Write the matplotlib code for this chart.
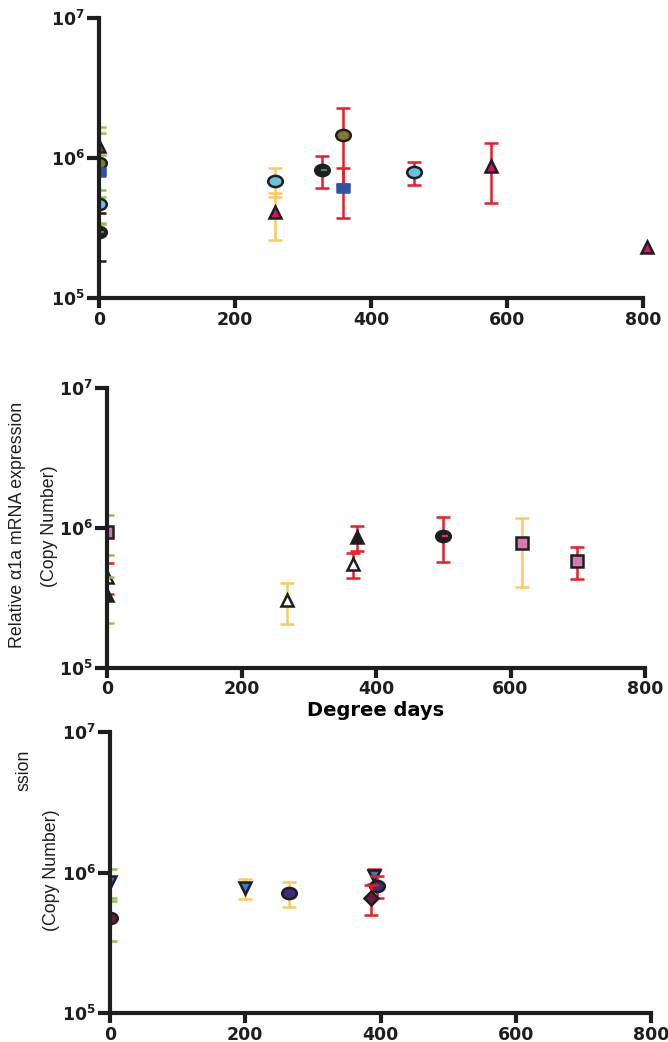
import matplotlib
matplotlib.use('Agg')
import matplotlib.pyplot as plt
from matplotlib.path import Path
from matplotlib.transforms import Affine2D

W, H = 668, 1042

GREEN = '#8cc63f'
YELLOW = '#fdc95f'
RED = '#ec1c24'
BLACK = '#1e1e1e'

# panel 1 (top)
p1_x = [0, 0, 0, 0, 0, 259, 259, 328, 359, 359, 463, 576, 806]
p1_y = [1.22e6, 9.2e5, 7.9e5, 4.7e5, 2.95e5, 6.9e5, 4.1e5, 8.2e5, 1.46e6, 6.1e5, 7.9e5, 8.8e5, 2.3e5]
p1_sd = [4.4e5, 5.8e5, 2.6e5, 1.25e5, 1.1e5, 1.6e5, 1.5e5, 2.1e5, 8.1e5, 2.4e5, 1.5e5, 4.0e5, 0]
p1_marker = ['^', 'o', 's', 'o', 'o', 'o', '^', 'o', 'o', 's', 'o', '^', '^']
p1_face = ['#d4136f', '#7d7a34', '#2f52a3', '#63c6dc', BLACK, '#63c6dc', '#d4136f',
           BLACK, '#7d7a34', '#2f52a3', '#63c6dc', '#d4136f', '#d4136f']
p1_bar = [GREEN, GREEN, GREEN, GREEN, BLACK, YELLOW, YELLOW, RED, RED, RED, RED, RED, RED]

# panel 2 (middle)
p2_x = [0, 0, 0, 268, 366, 372, 500, 617, 699]
p2_y = [9.4e5, 4.5e5, 3.3e5, 3.06e5, 5.5e5, 8.6e5, 8.8e5, 7.8e5, 5.8e5]
p2_sd = [3.0e5, 1.1e5, 1.2e5, 1.0e5, 1.1e5, 1.7e5, 3.1e5, 4.0e5, 1.5e5]
p2_marker = ['s', '^', '^', '^', '^', '^', 'o', 's', 's']
p2_face = ['#d877b6', 'white', BLACK, 'white', 'white', BLACK, BLACK, '#d877b6', '#d877b6']
p2_bar = [GREEN, RED, GREEN, YELLOW, RED, RED, RED, YELLOW, RED]

# panel 3 (bottom)
p3_x = [0, 0, 200, 265, 391, 395, 386]
p3_y = [8.55e5, 4.75e5, 7.77e5, 7.15e5, 9.45e5, 8.0e5, 6.6e5]
p3_sd = [2.0e5, 1.5e5, 1.25e5, 1.45e5, 1.2e5, 1.4e5, 1.6e5]
p3_marker = ['v', 'o', 'v', 'o', 'v', 'o', 'D']
p3_face = ['#3a78c2', '#6e1a3c', '#3a78c2', '#3b2c7c', '#3a78c2', '#3b2c7c', '#6e1a3c']
p3_bar = [GREEN, GREEN, YELLOW, YELLOW, RED, RED, RED]

# small dashes inside the black circles
dash_x = [0, 328, 500]
dash_y = [2.95e5, 8.2e5, 8.8e5]
dash_color = ['#2e9a4a', '#2e9a4a', '#e0307a']
dash_panel = [0, 0, 1]

x_ticks = [0, 200, 400, 600, 800]
y_ticks = [1e5, 1e6, 1e7]
y_ticklabels = [r'$\mathbf{10^{5}}$', r'$\mathbf{10^{6}}$', r'$\mathbf{10^{7}}$']

# circles in the original are slightly squashed
ELLIPSE = Path.unit_circle().transformed(Affine2D().scale(1.3, 1.0))
SQUARE_BAR = Path([(-1.3, -0.9), (1.3, -0.9), (1.3, 0.9), (-1.3, 0.9), (-1.3, -0.9)],
                  [Path.MOVETO, Path.LINETO, Path.LINETO, Path.LINETO, Path.CLOSEPOLY])


def make_axes(fig, left, bottom, width, height):
    ax = fig.add_axes([left / W, bottom / H, width / W, height / H])
    ax.set_yscale('log')
    ax.set_xlim(0, 800)
    ax.set_ylim(1e5, 1e7)
    for side in ('top', 'right'):
        ax.spines[side].set_visible(False)
    for side in ('left', 'bottom'):
        ax.spines[side].set_linewidth(3)
        ax.spines[side].set_color(BLACK)
    ax.set_xticks(x_ticks)
    ax.set_xticklabels([str(t) for t in x_ticks], fontweight='bold', fontsize=12.5)
    ax.set_yticks(y_ticks)
    ax.set_yticklabels(y_ticklabels, fontsize=12.5)
    ax.yaxis.set_minor_locator(matplotlib.ticker.NullLocator())
    ax.tick_params(axis='y', length=9, width=3, pad=1, colors=BLACK)
    ax.tick_params(axis='x', length=7, width=3, pad=2, colors=BLACK)
    return ax


def draw(ax, xs, ys, sds, markers, faces, bars):
    for x, y, sd, m, fc, bc in zip(xs, ys, sds, markers, faces, bars):
        ec = BLACK
        mk = m
        size = 9
        if m == 'o':
            mk = ELLIPSE
            size = 10.5
        elif m == 'D':
            size = 7
        elif m == 's':
            size = 8.5
            if fc == '#2f52a3':
                # blue squares have no outline and are flat
                ec = fc
                mk = SQUARE_BAR
                size = 9
        if sd == 0:
            ax.plot([x], [y], marker=mk, ms=size, mfc=fc, mec=ec, mew=1.8,
                    linestyle='none', clip_on=False)
            continue
        ax.errorbar([x], [y], yerr=[sd], fmt='none', ecolor=bc,
                    elinewidth=1.8, capsize=5, capthick=1.8)
        ax.plot([x], [y], marker=mk, ms=size, mfc=fc, mec=ec, mew=1.8,
                linestyle='none')


fig = plt.figure(figsize=(W / 100, H / 100), dpi=100)

ax1 = make_axes(fig, 99, 744, 544, 280)
draw(ax1, p1_x, p1_y, p1_sd, p1_marker, p1_face, p1_bar)

ax2 = make_axes(fig, 107, 374, 538, 280)
draw(ax2, p2_x, p2_y, p2_sd, p2_marker, p2_face, p2_bar)
ax2.set_xlabel('Degree days', fontsize=14, fontweight='bold', labelpad=2)

ax3 = make_axes(fig, 110, 29, 541, 281)
draw(ax3, p3_x, p3_y, p3_sd, p3_marker, p3_face, p3_bar)

panels = [ax1, ax2, ax3]
for x, y, c, p in zip(dash_x, dash_y, dash_color, dash_panel):
    panels[p].plot([x + 3], [y], marker='_', ms=4, mew=1.5, color=c, linestyle='none')

label_font = dict(family=['Liberation Sans', 'DejaVu Sans'], fontsize=12.8,
                  rotation=90, ha='center', va='center', color=BLACK)
fig.text(18 / W, 1 - 525 / H, 'Relative \u03b11a mRNA expression', **label_font)
fig.text(50 / W, 1 - 526 / H, '(Copy Number)', **label_font)
fig.text(24 / W, 1 - 770 / H, 'ssion', **label_font)
fig.text(52 / W, 1 - 870 / H, '(Copy Number)', **label_font)

fig.savefig('out.png', dpi=100)
